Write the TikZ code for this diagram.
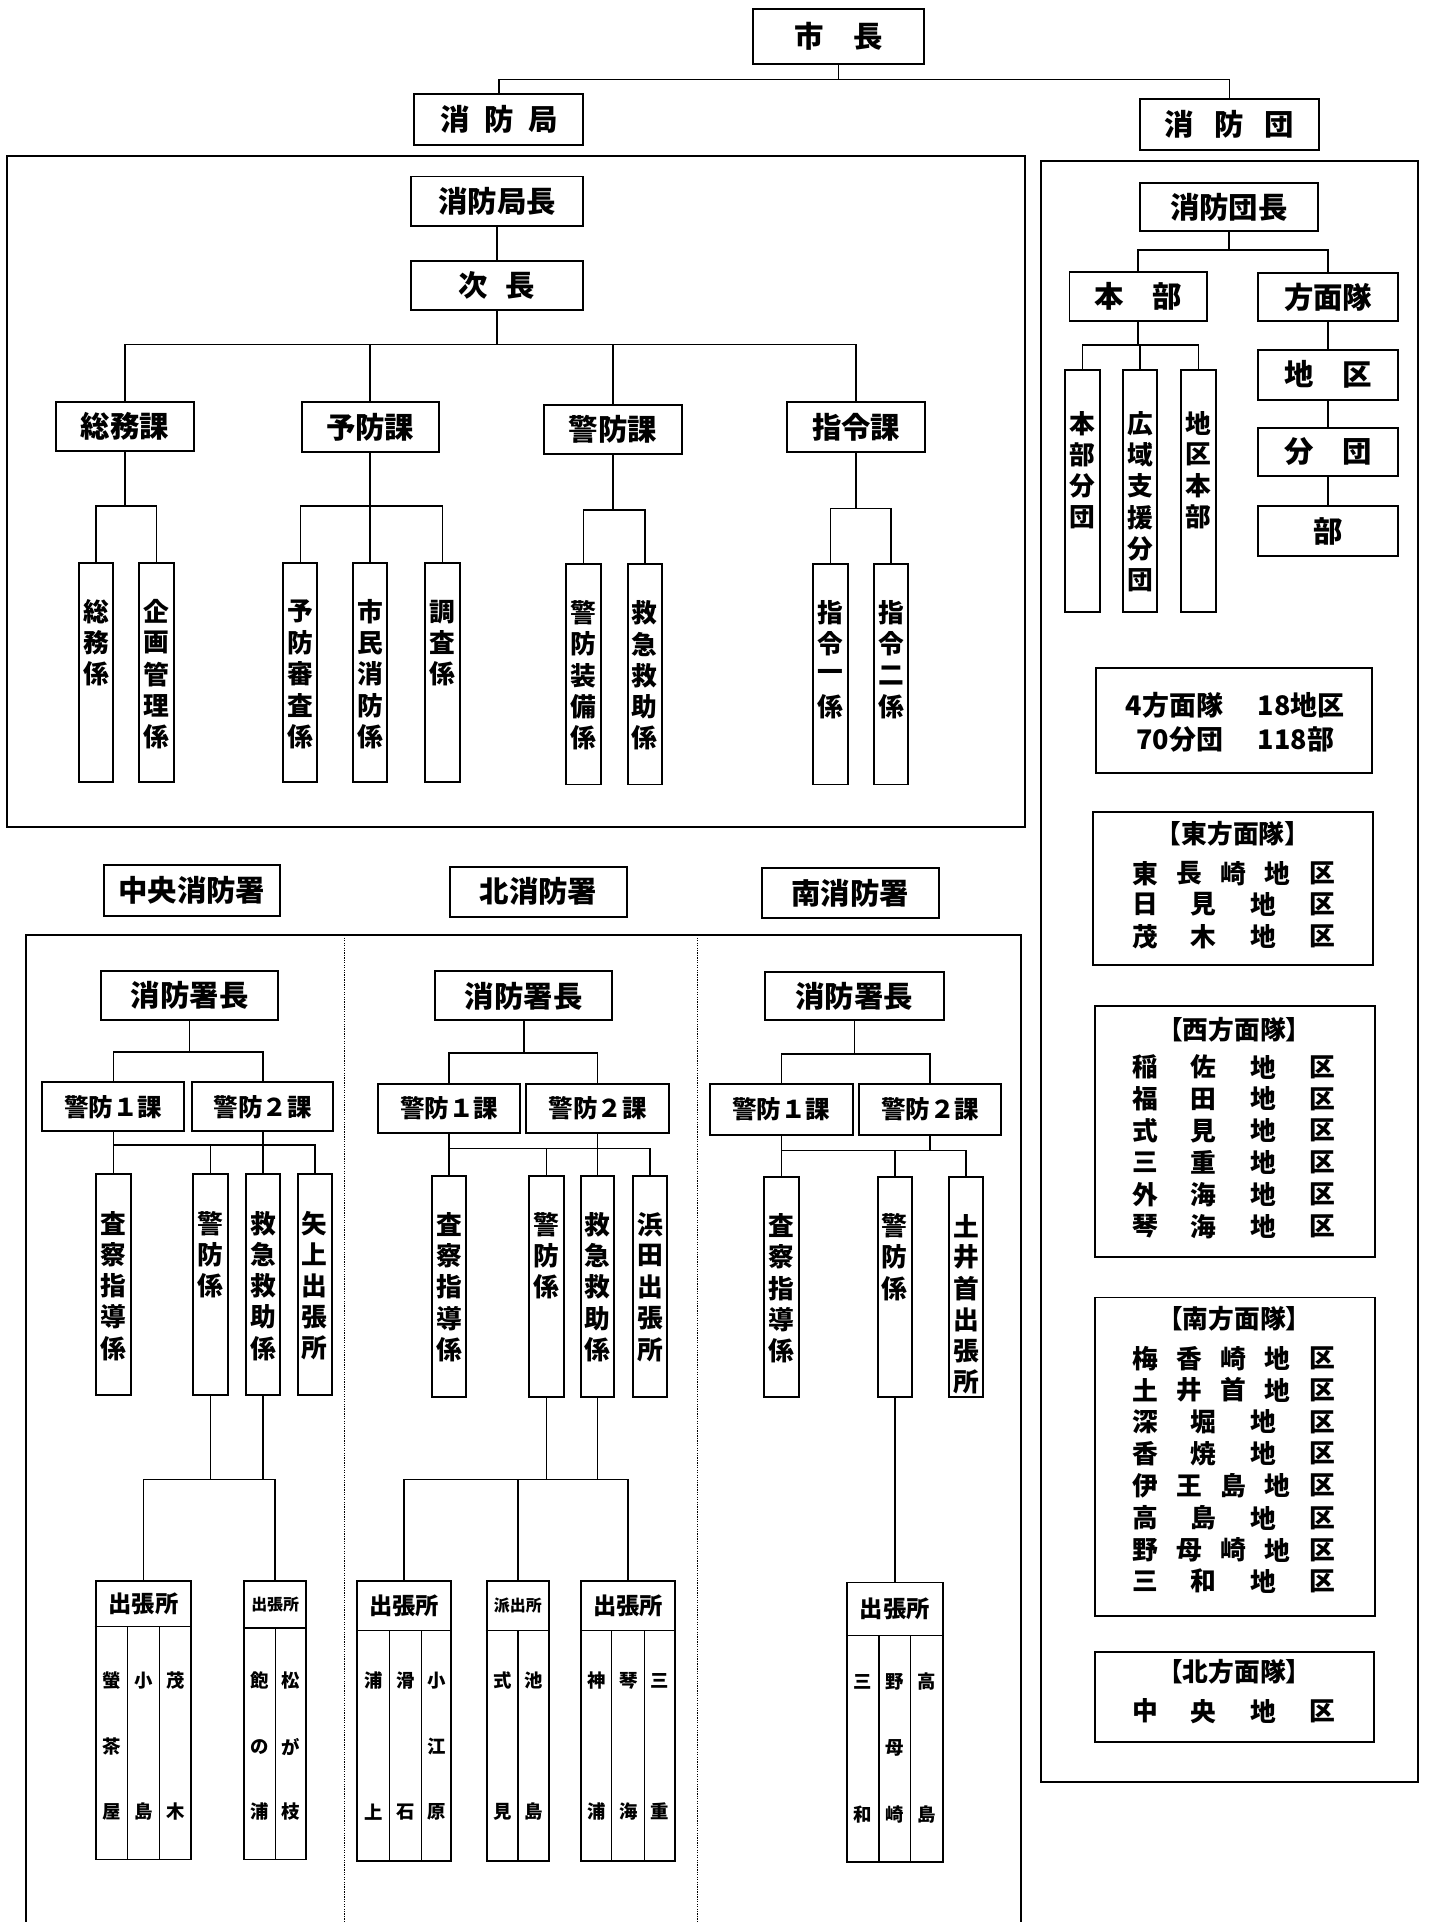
\documentclass[tikz,border=0pt]{standalone}
\usepackage{fontspec}
\setmainfont{Noto Sans CJK JP}
\newcommand\fs[1]{\fontsize{#1}{#1}\selectfont\bfseries}
\tikzset{
  bx/.style={draw,line width=1.6pt,inner sep=0pt,font=\fs{24}},
  vb/.style={draw,line width=1.6pt,inner sep=0pt},
  vt/.style={inner sep=0pt,font=\fs{21}},
  lt/.style={inner sep=0pt,font=\fs{21}},
  st/.style={inner sep=0pt,font=\fs{15}},
  ln/.style={line width=1.3pt},
  dv/.style={line width=1.1pt},
  frame/.style={line width=1.7pt},
  sepl/.style={line width=1pt,densely dotted},
}
\newcommand\BX[7][]{\node[bx,#1,minimum width={(#5-(#3))*1pt},minimum height={(#6-(#4))*1pt}] (#2) at ({(#3+#5)/2},{(#4+#6)/2}) {#7};}
\newcommand\VB[7][40]{\node[vb,minimum width={(#5-(#3))*1pt},minimum height={(#6-(#4))*1pt}] (#2) at ({(#3+#5)/2},{(#4+#6)/2}) {};
  \foreach \ch [count=\k] in {#7} {\node[vt] (#2-\k) at ({(#3+#5)/2},{#4+#1+(\k-1)*25.5}) {\ch};}}
\newcommand\RW[3]{\foreach \xx/\ch [count=\k] in {#3} {\node[lt] (#1-\k) at (\xx,#2) {\ch};}}
\newcommand\OT[3]{\foreach \yy/\ch [count=\k] in {#3} {\node[st] (#1-\k) at (#2,\yy) {\ch};}}
\newcommand\OB[6]{\node[vb,minimum width={(#4-(#2))*1pt},minimum height={(#5-(#3))*1pt}] (#1) at ({(#2+#4)/2},{(#3+#5)/2}) {};
  \draw[dv] (#1.west |- 0,#6) -- (#1.east |- 0,#6);}
\begin{document}
\begin{tikzpicture}[x=1pt,y=-1pt]
\useasboundingbox (0,0) rectangle (1166,1568);
% ---------- top ----------
\BX{mayor}{614}{7}{754}{52}{市　長}
\BX{kyoku}{338}{77}{476}{118}{消\hspace{0.5em}防\hspace{0.5em}局}
\BX{dan}{930}{81}{1076}{122}{消\hspace{0.7em}防\hspace{0.7em}団}
\draw[ln] (mayor.south) -- (mayor.south |- 0,65);
\draw[ln] (kyoku.north) -- (kyoku.north |- 0,65) -- (dan.north |- 0,65) -- (dan.north);
% ---------- fire bureau ----------
\draw[frame] (6,127) rectangle (836,675);
\BX{chief}{335}{144}{476}{184}{消防局長}
\BX{deputy}{335}{213}{476}{253}{次\hspace{0.6em}長}
\draw[ln] (chief.south) -- (deputy.north);
\BX{s1}{46}{328}{158}{368}{総務課}
\BX{s2}{246}{328}{358}{369}{予防課}
\BX{s3}{444}{330.5}{556}{370.5}{警防課}
\BX{s4}{642}{328}{755}{368.5}{指令課}
\draw[ln] (deputy.south) -- (deputy.south |- 0,281);
\draw[ln] (s1.north) -- (s1.north |- 0,281) -- (s4.north |- 0,281) -- (s4.north);
\draw[ln] (s2.north) -- (s2.north |- 0,281);
\draw[ln] (s3.north) -- (s3.north |- 0,281);
\VB{k11}{64.5}{459}{92.5}{638}{総,務,係}
\VB{k12}{113.5}{459}{142}{638}{企,画,管,理,係}
\VB{k21}{231}{459}{259}{638}{予,防,審,査,係}
\VB{k22}{288}{459}{316}{638}{市,民,消,防,係}
\VB{k23}{347}{459}{375}{638}{調,査,係}
\VB{k31}{462}{460}{490}{640}{警,防,装,備,係}
\VB{k32}{512}{460}{540}{640}{救,急,救,助,係}
\VB{k41}{663.5}{460}{691.5}{640}{指,令,一,係}
\VB{k42}{713}{460}{741}{640}{指,令,二,係}
\draw[ln] (s1.south) -- (s1.south |- 0,413);
\draw[ln] (k11.north) -- (k11.north |- 0,413) -- (k12.north |- 0,413) -- (k12.north);
\draw[ln] (s2.south) -- (k22.north);
\draw[ln] (k21.north) -- (k21.north |- 0,413) -- (k23.north |- 0,413) -- (k23.north);
\draw[ln] (s3.south) -- (s3.south |- 0,416);
\draw[ln] (k31.north) -- (k31.north |- 0,416) -- (k32.north |- 0,416) -- (k32.north);
\draw[ln] (s4.south) -- (s4.south |- 0,415);
\draw[ln] (k41.north) -- (k41.north |- 0,415) -- (k42.north |- 0,415) -- (k42.north);
% ---------- fire corps ----------
\draw[frame] (849,131) rectangle (1157,1454);
\BX{dchief}{930}{149}{1075}{188.5}{消防団長}
\BX{honbu}{872.5}{222}{984.5}{262}{本　部}
\BX{homen}{1026.5}{223}{1140.5}{262}{方面隊}
\draw[ln] (dchief.south) -- (dchief.south |- 0,204);
\draw[ln] (honbu.north) -- (honbu.north |- 0,204) -- (homen.north |- 0,204) -- (homen.north);
\VB[44]{h1}{869}{301.5}{897}{499}{本,部,分,団}
\VB[44]{h2}{916}{301.5}{944}{499}{広,域,支,援,分,団}
\VB[44]{h3}{963.5}{301.5}{992}{499}{地,区,本,部}
\draw[ln] (honbu.south) -- (honbu.south |- 0,281.5);
\draw[ln] (h2.north) -- (h2.north |- 0,281.5);
\draw[ln] (h1.north) -- (h1.north |- 0,281.5) -- (h3.north |- 0,281.5) -- (h3.north);
\BX{chiku}{1026.5}{285.5}{1140.5}{326}{地　区}
\BX{bundan}{1026.5}{349}{1140.5}{388.5}{分　団}
\BX{bu}{1026.5}{413}{1140.5}{453.5}{部}
\draw[ln] (homen.south) -- (chiku.north);
\draw[ln] (chiku.south) -- (bundan.north);
\draw[ln] (bundan.south) -- (bu.north);
% summary
\BX{sum}{894}{545}{1119}{631}{}
\node[lt,font=\fs{22},anchor=east] (sum1a) at (998,575) {4方面隊};
\node[lt,font=\fs{22},anchor=west] (sum1b) at (1026,575) {18地区};
\node[lt,font=\fs{22},anchor=east] (sum2a) at (998,603) {70分団};
\node[lt,font=\fs{22},anchor=west] (sum2b) at (1026,603) {118部};
% east
\BX{eastb}{892}{662.5}{1120}{787.5}{}
\node[lt] (easth) at (1006,680) {【東方面隊】};
\RW{e1}{712.5}{934/東,970/長,1006/崎,1042/地,1079/区}
\RW{e2}{738}{934/日,982/見,1031/地,1079/区}
\RW{e3}{764}{934/茂,982/木,1031/地,1079/区}
% west
\BX{westb}{893}{820.5}{1122}{1025.5}{}
\node[lt] (westh) at (1007,840) {【西方面隊】};
\RW{w1}{870.5}{934/稲,982/佐,1031/地,1079/区}
\RW{w2}{896.5}{934/福,982/田,1031/地,1079/区}
\RW{w3}{922.5}{934/式,982/見,1031/地,1079/区}
\RW{w4}{948.5}{934/三,982/重,1031/地,1079/区}
\RW{w5}{974.5}{934/外,982/海,1031/地,1079/区}
\RW{w6}{1000.5}{934/琴,982/海,1031/地,1079/区}
% south
\BX{southb}{893}{1058.5}{1122}{1318.5}{}
\node[lt] (southh) at (1007,1075.5) {【南方面隊】};
\RW{r1}{1108.5}{934/梅,970/香,1006/崎,1042/地,1079/区}
\RW{r2}{1134}{934/土,970/井,1006/首,1042/地,1079/区}
\RW{r3}{1160}{934/深,982/堀,1031/地,1079/区}
\RW{r4}{1186}{934/香,982/焼,1031/地,1079/区}
\RW{r5}{1212}{934/伊,970/王,1006/島,1042/地,1079/区}
\RW{r6}{1238.5}{934/高,982/島,1031/地,1079/区}
\RW{r7}{1264.5}{934/野,970/母,1006/崎,1042/地,1079/区}
\RW{r8}{1290}{934/三,982/和,1031/地,1079/区}
% north
\BX{northb}{893}{1347.5}{1121}{1421.5}{}
\node[lt] (northh) at (1007,1364) {【北方面隊】};
\RW{q1}{1396}{934/中,982/央,1031/地,1079/区}
% ---------- fire stations ----------
\BX{st1}{84.5}{706}{228.5}{747}{中央消防署}
\BX{st2}{367}{707}{511.5}{748}{北消防署}
\BX{st3}{621.5}{708}{766}{749}{南消防署}
\draw[frame] (21,1568) -- (21,763) -- (833,763) -- (833,1568);
\draw[sepl] (281,763) -- (281,1568);
\draw[sepl] (569,763) -- (569,1568);
% central
\BX{c0}{82.5}{792}{227}{832}{消防署長}
\BX[font=\fs{20}]{c1}{34.5}{883}{150.5}{923}{警防１課}
\BX[font=\fs{20}]{c2}{157}{883}{272}{923}{警防２課}
\draw[ln] (c0.south) -- (c0.south |- 0,858);
\draw[ln] (c1.north) -- (c1.north |- 0,858) -- (c2.north |- 0,858) -- (c2.north);
\VB{c11}{78.5}{958}{106.5}{1138}{査,察,指,導,係}
\VB{c12}{157.5}{958}{186}{1138}{警,防,係}
\VB{c13}{200.5}{958}{228.5}{1138}{救,急,救,助,係}
\VB{c14}{243}{958}{270.5}{1138}{矢,上,出,張,所}
\draw[ln] (c1.south) -- (c11.north);
\draw[ln] (c11.north |- 0,934) -- (c14.north |- 0,934) -- (c14.north);
\draw[ln] (c12.north) -- (c12.north |- 0,934);
\draw[ln] (c2.south) -- (c13.north);
\OB{co1}{78}{1290}{156}{1517}{1327}
\OB{co2}{199}{1290}{250}{1517}{1328}
\draw[ln] (c12.south) -- (c12.south |- 0,1207);
\draw[ln] (c13.south) -- (c13.south |- 0,1207);
\draw[ln] (co1.north) -- (co1.north |- 0,1207) -- (co2.north |- 0,1207) -- (co2.north);
\draw[dv] (104,1327) -- (104,1517);
\draw[dv] (130,1327) -- (130,1517);
\draw[dv] (224.5,1328) -- (224.5,1517);
\node[inner sep=0pt,font=\fs{19}] (co1h) at (117,1308.5) {出張所};
\node[inner sep=0pt,font=\fs{13}] (co2h) at (224.5,1309) {出張所};
\OT{co1a}{91}{1371/螢,1425/茶,1478/屋}
\OT{co1b}{117}{1371/小,1478/島}
\OT{co1c}{143}{1371/茂,1478/木}
\OT{co2a}{211.5}{1371/飽,1425/の,1478/浦}
\OT{co2b}{237.5}{1371/松,1425/が,1478/枝}
% north station
\BX{ns0}{355}{792.5}{499.5}{832.5}{消防署長}
\BX[font=\fs{20}]{ns1}{308.5}{884}{424.5}{924}{警防１課}
\BX[font=\fs{20}]{ns2}{429}{884}{546}{924}{警防２課}
\draw[ln] (ns0.south) -- (ns0.south |- 0,859);
\draw[ln] (ns1.north) -- (ns1.north |- 0,859) -- (ns2.north |- 0,859) -- (ns2.north);
\VB{ns11}{352.5}{959}{380.5}{1140}{査,察,指,導,係}
\VB{ns12}{431.5}{959}{460}{1140}{警,防,係}
\VB{ns13}{474}{959}{501}{1140}{救,急,救,助,係}
\VB{ns14}{516.5}{959}{544}{1140}{浜,田,出,張,所}
\draw[ln] (ns1.south) -- (ns11.north);
\draw[ln] (ns11.north |- 0,937) -- (ns14.north |- 0,937) -- (ns14.north);
\draw[ln] (ns12.north) -- (ns12.north |- 0,937);
\draw[ln] (ns2.south) -- (ns13.north);
\OB{no1}{291.5}{1290}{368}{1518.5}{1330}
\OB{no2}{397}{1290}{448}{1518.5}{1330}
\OB{no3}{474}{1290}{551}{1518.5}{1330}
\draw[ln] (ns12.south) -- (ns12.south |- 0,1207);
\draw[ln] (ns13.south) -- (ns13.south |- 0,1207);
\draw[ln] (no1.north) -- (no1.north |- 0,1207) -- (no3.north |- 0,1207) -- (no3.north);
\draw[ln] (no2.north) -- (no2.north |- 0,1207);
\draw[dv] (318,1330) -- (318,1518.5);
\draw[dv] (344,1330) -- (344,1518.5);
\draw[dv] (422.5,1330) -- (422.5,1518.5);
\draw[dv] (499,1330) -- (499,1518.5);
\draw[dv] (526,1330) -- (526,1518.5);
\node[inner sep=0pt,font=\fs{19}] (no1h) at (329.75,1310) {出張所};
\node[inner sep=0pt,font=\fs{13}] (no2h) at (422.5,1310) {派出所};
\node[inner sep=0pt,font=\fs{19}] (no3h) at (512.5,1310) {出張所};
\OT{no1a}{305}{1371/浦,1478/上}
\OT{no1b}{331}{1371/滑,1478/石}
\OT{no1c}{356}{1371/小,1425/江,1478/原}
\OT{no2a}{410}{1371/式,1478/見}
\OT{no2b}{435.5}{1371/池,1478/島}
\OT{no3a}{486.5}{1371/神,1478/浦}
\OT{no3b}{512.5}{1371/琴,1478/海}
\OT{no3c}{538.5}{1371/三,1478/重}
% south station
\BX{ss0}{624}{793}{770}{832}{消防署長}
\BX[font=\fs{20}]{ss1}{579}{884.5}{696}{926}{警防１課}
\BX[font=\fs{20}]{ss2}{701}{884.5}{816.5}{926}{警防２課}
\draw[ln] (ss0.south) -- (ss0.south |- 0,860);
\draw[ln] (ss1.north) -- (ss1.north |- 0,860) -- (ss2.north |- 0,860) -- (ss2.north);
\VB{ss11}{623.5}{960}{651.5}{1139.5}{査,察,指,導,係}
\VB{ss12}{716}{960}{744}{1139.5}{警,防,係}
\VB{ss13}{774}{960}{802}{1139.5}{土,井,首,出,張,所}
\draw[ln] (ss1.south) -- (ss11.north);
\draw[ln] (ss11.north |- 0,938.5) -- (ss13.north |- 0,938.5) -- (ss13.north);
\draw[ln] (ss12.north) -- (ss12.north |- 0,938.5);
\draw[ln] (ss2.south) -- (ss2.south |- 0,938.5);
\OB{so1}{691}{1291}{769}{1519}{1334}
\draw[ln] (ss12.south) -- (so1.north);
\draw[dv] (717,1334) -- (717,1519);
\draw[dv] (743,1334) -- (743,1519);
\node[inner sep=0pt,font=\fs{19}] (so1h) at (730,1312.5) {出張所};
\OT{so1a}{704}{1372/三,1480/和}
\OT{so1b}{730}{1372/野,1426/母,1480/崎}
\OT{so1c}{756}{1372/高,1480/島}
\end{tikzpicture}
\end{document}
